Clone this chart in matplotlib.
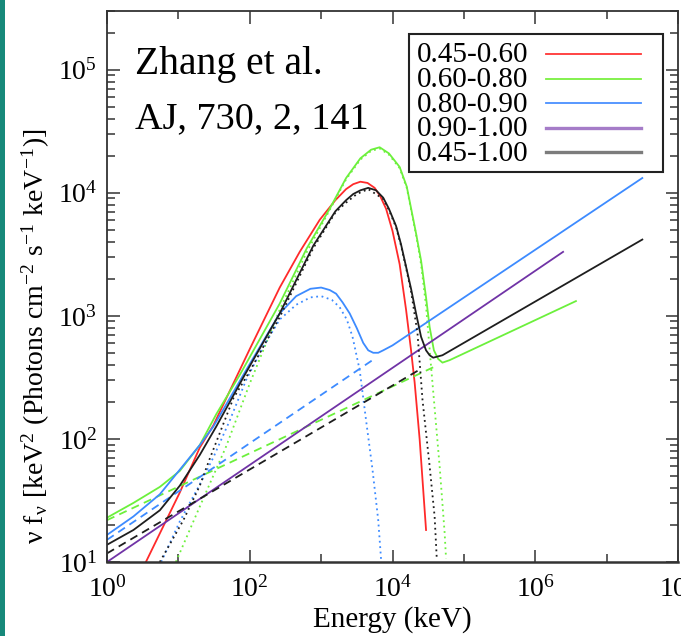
import numpy as np
import matplotlib.pyplot as plt
from matplotlib.patches import Rectangle
from matplotlib.lines import Line2D
from matplotlib.ticker import FixedLocator, LogLocator, LogFormatterMathtext, NullFormatter

plt.rcParams['font.family'] = ['Liberation Serif', 'DejaVu Serif']
plt.rcParams['mathtext.fontset'] = 'stix'

labels = ['0.45-0.60', '0.60-0.80', '0.80-0.90', '0.90-1.00', '0.45-1.00']
colors = ['#ff2a2a', '#6cf03c', '#3d8bff', '#7033a6', '#1e1e1e']
key_colors = ['#ff3535', '#7af040', '#4a90ff', '#a57cc8', '#7c7c7c']
key_widths = [1.3, 1.3, 1.3, 2.4, 2.4]

# values as log10(E / keV), log10(nu f_nu)
red_x = [0.545, 1.02, 1.30, 1.49, 2.00, 2.42, 2.70, 2.98, 3.20, 3.35, 3.45, 3.55, 3.65,
         3.75, 3.83, 3.91, 4.00, 4.10, 4.19, 4.26, 4.31, 4.38, 4.47]
red_y = [1.00, 1.565, 1.93, 2.11, 2.73, 3.23, 3.52, 3.78, 3.94, 4.03, 4.07, 4.09, 4.08,
         4.04, 3.97, 3.87, 3.69, 3.42, 3.05, 2.72, 2.46, 2.00, 1.26]

green_x = [0.00, 0.37, 0.74, 1.02, 1.30, 1.53, 1.86, 2.42, 2.80, 3.12, 3.35, 3.55, 3.70,
           3.82, 3.95, 4.10, 4.20, 4.33, 4.40, 4.47, 4.52, 4.58, 4.64, 4.70, 4.80, 6.57]
green_y = [1.36, 1.48, 1.61, 1.74, 1.95, 2.20, 2.52, 3.10, 3.55, 3.87, 4.12, 4.28, 4.35,
           4.37, 4.32, 4.21, 4.05, 3.67, 3.45, 3.15, 2.91, 2.72, 2.65, 2.62, 2.64, 3.12]
green_dot_x = [0.965, 1.30, 1.67, 2.00, 2.42, 2.80, 3.12, 3.35, 3.55, 3.70, 3.82, 3.95,
               4.10, 4.20, 4.33, 4.40, 4.47, 4.54, 4.66, 4.73, 4.75]
green_dot_y = [1.00, 1.45, 1.94, 2.45, 3.05, 3.52, 3.86, 4.11, 4.27, 4.34, 4.36, 4.31,
               4.20, 4.04, 3.66, 3.42, 3.08, 2.59, 1.78, 1.24, 1.03]
green_pl_x = [0.00, 4.60]
green_pl_y = [1.34, 2.59]

blue_x = [0.00, 0.37, 0.74, 1.02, 1.30, 1.49, 1.95, 2.42, 2.65, 2.85, 3.00, 3.12, 3.21,
          3.30, 3.40, 3.50, 3.59, 3.66, 3.73, 3.80, 3.87, 4.00, 7.50]
blue_y = [1.22, 1.37, 1.55, 1.75, 1.95, 2.10, 2.56, 3.02, 3.16, 3.22, 3.23, 3.21, 3.18,
          3.11, 3.02, 2.90, 2.78, 2.72, 2.70, 2.70, 2.72, 2.76, 4.12]
blue_dot_x = [0.76, 1.02, 1.30, 1.49, 1.72, 1.95, 2.19, 2.42, 2.65, 2.85, 3.00, 3.15,
              3.26, 3.36, 3.44, 3.54, 3.63, 3.72, 3.80, 3.84]
blue_dot_y = [1.00, 1.33, 1.63, 1.85, 2.15, 2.48, 2.75, 2.97, 3.09, 3.15, 3.16, 3.13,
              3.07, 2.97, 2.83, 2.56, 2.15, 1.75, 1.34, 1.02]
blue_pl_x = [0.00, 3.77]
blue_pl_y = [1.18, 2.66]

purple_x = [0.00, 6.39]
purple_y = [1.00, 3.52]

black_x = [0.00, 0.37, 0.74, 1.02, 1.30, 1.53, 1.91, 2.42, 2.89, 3.20, 3.35, 3.45, 3.55,
           3.66, 3.77, 3.87, 3.95, 4.05, 4.12, 4.19, 4.26, 4.33, 4.40, 4.47, 4.52, 4.57,
           4.70, 7.50]
black_y = [1.14, 1.26, 1.42, 1.62, 1.87, 2.10, 2.50, 3.02, 3.57, 3.85, 3.94, 3.99, 4.02,
           4.04, 4.02, 3.96, 3.87, 3.73, 3.58, 3.40, 3.22, 3.02, 2.83, 2.72, 2.68, 2.66,
           2.68, 3.62]
black_dot_x = [0.74, 1.07, 1.30, 1.44, 1.77, 2.00, 2.42, 2.89, 3.20, 3.35, 3.50, 3.66,
               3.87, 3.95, 4.05, 4.12, 4.19, 4.26, 4.35, 4.42, 4.52, 4.59, 4.62]
black_dot_y = [1.00, 1.34, 1.62, 1.84, 2.33, 2.55, 2.99, 3.55, 3.84, 3.92, 3.99, 4.03,
               3.95, 3.86, 3.72, 3.57, 3.39, 3.20, 2.86, 2.32, 1.78, 1.37, 1.03]
black_pl_x = [0.00, 4.40]
black_pl_y = [1.07, 2.57]


def lg(v):
    return 10.0 ** np.array(v)


W, H = 681, 636
fig = plt.figure(figsize=(W / 100, H / 100), dpi=100)
ax = fig.add_axes([107 / W, 1 - 562 / H, 571 / W, 551 / H])

dash = (0, (4.5, 3))
dot = (0, (1, 2))
lw = 1.3

ax.plot(lg(red_x), lg(red_y), color=colors[0], lw=lw)

ax.plot(lg(green_x), lg(green_y), color=colors[1], lw=lw)
ax.plot(lg(green_dot_x), lg(green_dot_y), color=colors[1], lw=lw, ls=dot)
ax.plot(lg(green_pl_x), lg(green_pl_y), color=colors[1], lw=lw, ls=dash)

ax.plot(lg(blue_x), lg(blue_y), color=colors[2], lw=lw)
ax.plot(lg(blue_dot_x), lg(blue_dot_y), color=colors[2], lw=lw, ls=dot)
ax.plot(lg(blue_pl_x), lg(blue_pl_y), color=colors[2], lw=lw, ls=dash)

ax.plot(lg(purple_x), lg(purple_y), color=colors[3], lw=lw)

ax.plot(lg(black_x), lg(black_y), color=colors[4], lw=lw)
ax.plot(lg(black_dot_x), lg(black_dot_y), color=colors[4], lw=lw, ls=dot)
ax.plot(lg(black_pl_x), lg(black_pl_y), color=colors[4], lw=lw, ls=dash)

ax.set_xscale('log')
ax.set_yscale('log')
ax.set_xlim(1, 1e8)
ax.set_ylim(10, 3e5)

ax.xaxis.set_major_locator(FixedLocator(10.0 ** np.arange(0, 9, 2)))
ax.xaxis.set_minor_locator(FixedLocator(10.0 ** np.arange(1, 9, 2)))
ax.xaxis.set_major_formatter(LogFormatterMathtext())
ax.xaxis.set_minor_formatter(NullFormatter())
ax.yaxis.set_major_locator(LogLocator(base=10, numticks=10))
ax.yaxis.set_minor_locator(LogLocator(base=10, subs=np.arange(2, 10), numticks=20))
ax.yaxis.set_major_formatter(LogFormatterMathtext())
ax.yaxis.set_minor_formatter(NullFormatter())

ax.tick_params(which='both', direction='in', top=True, right=True, width=1.1,
               color='#333333', labelcolor='black')
ax.tick_params(which='major', length=9, labelsize=20)
ax.tick_params(which='minor', length=5.5)
ax.tick_params(axis='x', pad=10)
ax.tick_params(axis='y', pad=7)
for s in ax.spines.values():
    s.set_linewidth(1.3)
    s.set_color('#333333')
ax.spines['bottom'].set_linewidth(1.8)

ax.set_xlabel('Energy (keV)', fontsize=21)
ax.xaxis.set_label_coords(0.5, -0.08)
ax.set_ylabel(r'ν f$_{\mathregular{ν}}$ [keV$^{\mathregular{2}}$ (Photons cm$^{\mathregular{-2}}$ '
              r's$^{\mathregular{-1}}$ keV$^{\mathregular{-1}}$)]', fontsize=20)
ax.yaxis.set_label_coords(-0.096, 0.41)

# citation text
fig.text(135 / W, 1 - 74 / H, 'Zhang et al.', fontsize=28.5, va='baseline')
fig.text(135 / W, 1 - 128 / H, 'AJ, 730, 2, 141', fontsize=27.5, va='baseline')

# key box
fig.add_artist(Rectangle((409 / W, 1 - 172 / H), 254 / W, 138 / H, transform=fig.transFigure,
                         fc='white', ec='#222222', lw=1.5, zorder=5))
for i, lab in enumerate(labels):
    yc = 54 + 24.6 * i
    fig.text(417 / W, 1 - (yc + 8.5) / H, lab, fontsize=21, va='baseline', zorder=6)
    fig.add_artist(Line2D([546 / W, 641 / W], [1 - yc / H, 1 - yc / H], transform=fig.transFigure,
                          color=key_colors[i], lw=key_widths[i], zorder=6))

# teal strip on the left edge
fig.add_artist(Rectangle((0, 0), 5 / W, 1, transform=fig.transFigure, fc='#17897a', ec='none'))

fig.savefig('out.png', dpi=100)
